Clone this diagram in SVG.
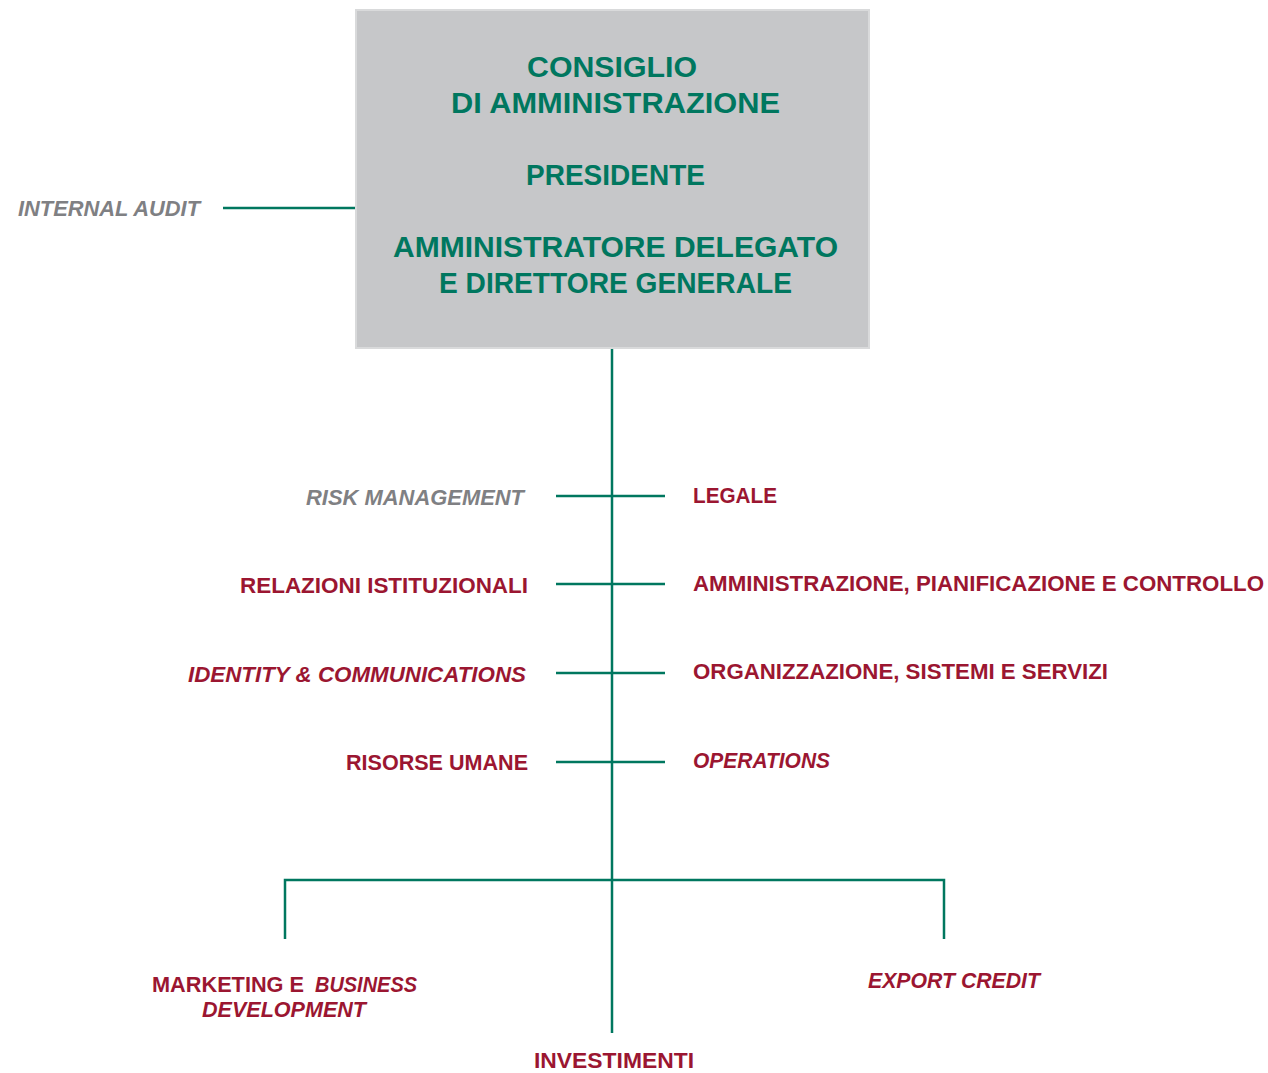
<svg xmlns="http://www.w3.org/2000/svg" width="1268" height="1073" viewBox="0 0 1268 1073">
<style>
text{font-family:"Liberation Sans",Arial,sans-serif;font-weight:bold}
.g{fill:#00775f;font-size:29px}
.r{fill:#9b1631;font-size:22px}
.gr{fill:#7f8083;font-size:22px;font-style:italic}
.i{font-style:italic}
.ln{stroke:#00775f;stroke-width:2.5;fill:none}
</style>
<rect width="1268" height="1073" fill="#ffffff"/>
<g id="connectors">
<line class="ln" x1="223" y1="208" x2="356" y2="208"/>
<line class="ln" x1="612" y1="349" x2="612" y2="1033"/>
<line class="ln" x1="556" y1="496" x2="665" y2="496"/>
<line class="ln" x1="556" y1="584" x2="665" y2="584"/>
<line class="ln" x1="556" y1="673" x2="665" y2="673"/>
<line class="ln" x1="556" y1="762" x2="665" y2="762"/>
<polyline class="ln" points="285,939 285,880 944,880 944,939"/>
</g>
<g id="board">
<rect x="356" y="10" width="513" height="338" fill="#c6c7c9" stroke="#d9dadb" stroke-width="2"/>
<text class="g" x="527" y="77" textLength="170" lengthAdjust="spacingAndGlyphs">CONSIGLIO</text>
<text class="g" x="451" y="113" textLength="329" lengthAdjust="spacingAndGlyphs">DI AMMINISTRAZIONE</text>
<text class="g" x="526" y="185" textLength="179" lengthAdjust="spacingAndGlyphs">PRESIDENTE</text>
<text class="g" x="393" y="257" textLength="445" lengthAdjust="spacingAndGlyphs">AMMINISTRATORE DELEGATO</text>
<text class="g" x="439" y="293" textLength="353" lengthAdjust="spacingAndGlyphs">E DIRETTORE GENERALE</text>
</g>
<g id="internal-audit"><text class="gr" x="18" y="216" textLength="182" lengthAdjust="spacingAndGlyphs">INTERNAL AUDIT</text></g>
<g id="risk-management"><text class="gr" x="306" y="505" textLength="218" lengthAdjust="spacingAndGlyphs">RISK MANAGEMENT</text></g>
<g id="relazioni"><text class="r" x="240" y="593" textLength="288" lengthAdjust="spacingAndGlyphs">RELAZIONI ISTITUZIONALI</text></g>
<g id="identity"><text class="r i" x="188" y="682" textLength="338" lengthAdjust="spacingAndGlyphs">IDENTITY &amp; COMMUNICATIONS</text></g>
<g id="risorse-umane"><text class="r" x="346" y="770" textLength="182" lengthAdjust="spacingAndGlyphs">RISORSE UMANE</text></g>
<g id="legale"><text class="r" x="693" y="503" textLength="84" lengthAdjust="spacingAndGlyphs">LEGALE</text></g>
<g id="amministrazione"><text class="r" x="693" y="591" textLength="571" lengthAdjust="spacingAndGlyphs">AMMINISTRAZIONE, PIANIFICAZIONE E CONTROLLO</text></g>
<g id="organizzazione"><text class="r" x="693" y="679" textLength="415" lengthAdjust="spacingAndGlyphs">ORGANIZZAZIONE, SISTEMI E SERVIZI</text></g>
<g id="operations"><text class="r i" x="693" y="768" textLength="137" lengthAdjust="spacingAndGlyphs">OPERATIONS</text></g>
<g id="marketing">
<text class="r" x="152" y="992" textLength="152" lengthAdjust="spacingAndGlyphs">MARKETING E</text>
<text class="r i" x="315" y="992" textLength="102" lengthAdjust="spacingAndGlyphs">BUSINESS</text>
<text class="r i" x="202" y="1017" textLength="164" lengthAdjust="spacingAndGlyphs">DEVELOPMENT</text>
</g>
<g id="export-credit"><text class="r i" x="868" y="988" textLength="172" lengthAdjust="spacingAndGlyphs">EXPORT CREDIT</text></g>
<g id="investimenti"><text class="r" x="534" y="1068" textLength="160" lengthAdjust="spacingAndGlyphs">INVESTIMENTI</text></g>
</svg>
